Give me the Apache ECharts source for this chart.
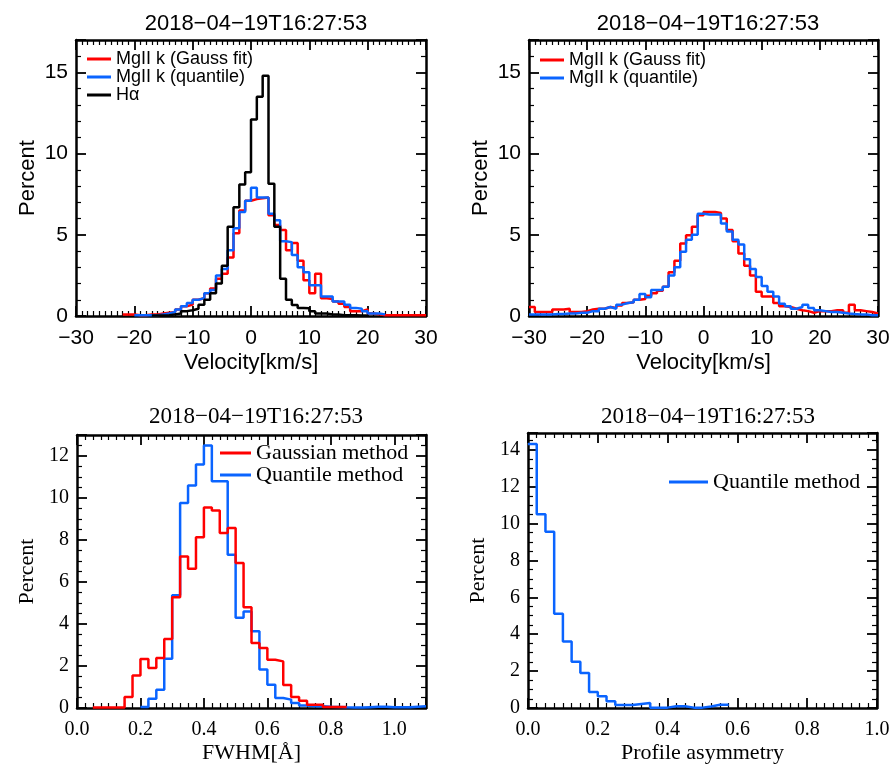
<!DOCTYPE html>
<html><head><meta charset="utf-8">
<script src="https://cdn.jsdelivr.net/npm/echarts@6/dist/echarts.min.js"></script>
<style>html,body{margin:0;padding:0;background:#fff}#c{width:893px;height:767px}</style>
</head><body><div id="c"></div>
<script>
const timeTitle = '2018−04−19T16:27:53';

// ---- Panel 1: velocity histograms (bin width 1 km/s, left edges) ----
const p1GaussBins = [-22,-21,-20,-19,-18,-17,-16,-15,-14,-13,-12,-11,-10,-9,-8,-7,-6,-5,-4,-3,-2,-1,0,1,2,3,4,5,6,7,8,9,10,11,12,13,14,15,16,17,18,19,20,21,22,23,24,25,26,27,28,29];
const p1GaussPct = [0.1,0.1,0.05,0.05,0.1,0.1,0.15,0.2,0.25,0.4,0.6,0.7,1.0,1.1,1.4,1.7,2.3,2.6,3.6,5.1,6.5,7.1,7.2,7.25,7.3,6.2,5.6,5.3,4.05,4.5,3.4,2.2,1.4,2.6,1.1,1.05,0.9,0.75,0.55,0.3,0.3,0.4,0.15,0.1,0.05,0.05,0.05,0.05,0.05,0.05,0.05,0.05];
const p1QuantBins = [-20,-19,-18,-17,-16,-15,-14,-13,-12,-11,-10,-9,-8,-7,-6,-5,-4,-3,-2,-1,0,1,2,3,4,5,6,7,8,9,10,11,12,13,14,15,16,17,18,19,20,21,22];
const p1QuantPct = [0.05,0.05,0.05,0.05,0.1,0.15,0.25,0.4,0.6,0.8,1.0,1.1,1.4,1.6,2.5,2.9,4.05,5.4,6.4,7.1,7.9,7.3,7.3,6.3,5.9,4.6,4.55,3.75,3.0,2.7,1.9,1.9,1.2,1.2,0.9,0.9,0.7,0.5,0.45,0.3,0.15,0.15,0.1];
const p1HaBins = [-17,-16,-15,-14,-13,-12,-11,-10,-9,-8,-7,-6,-5,-4,-3,-2,-1,0,1,2,3,4,5,6,7,8,9,10,11,12,13,14,15,16,17,18,19];
const p1HaPct = [0.03,0.03,0.05,0.1,0.15,0.3,0.35,0.45,0.7,1.0,1.4,2.0,3.1,5.5,6.7,8.1,8.85,12.1,13.5,14.8,8.15,5.5,2.3,1.0,0.68,0.5,0.47,0.3,0.16,0.16,0.1,0.1,0.05,0.05,0.05,0.03,0.03];

// ---- Panel 2 ----
const p2Bins = [-30,-29,-28,-27,-26,-25,-24,-23,-22,-21,-20,-19,-18,-17,-16,-15,-14,-13,-12,-11,-10,-9,-8,-7,-6,-5,-4,-3,-2,-1,0,1,2,3,4,5,6,7,8,9,10,11,12,13,14,15,16,17,18,19,20,21,22,23,24,25,26,27,28,29];
const p2GaussPct = [0.55,0.25,0.25,0.25,0.4,0.4,0.45,0.25,0.25,0.3,0.4,0.45,0.45,0.55,0.5,0.65,0.8,0.85,1.0,1.05,1.25,1.4,1.55,1.8,2.7,3.4,4.47,4.98,5.5,6.2,6.4,6.4,6.35,6.0,5.3,4.6,3.85,3.1,2.5,1.5,1.2,1.2,0.8,0.6,0.55,0.45,0.35,0.3,0.2,0.3,0.3,0.3,0.35,0.35,0.2,0.7,0.35,0.3,0.25,0.15];
const p2QuantPct = [0.1,0.1,0.1,0.1,0.12,0.12,0.15,0.15,0.2,0.2,0.3,0.3,0.45,0.55,0.45,0.7,0.8,0.85,1.0,1.35,1.15,1.6,1.6,1.8,2.5,3.0,3.95,4.7,5.0,6.3,6.25,6.25,6.25,5.7,5.2,4.7,4.4,3.5,2.9,2.4,1.85,1.5,1.2,0.75,0.6,0.45,0.55,0.7,0.5,0.35,0.3,0.25,0.25,0.2,0.15,0.12,0.1,0.1,0.05,0.05];

// ---- Panel 3: FWHM (bin width 0.025 Å) ----
const p3GaussBins = [0.05,0.075,0.1,0.125,0.15,0.175,0.2,0.225,0.25,0.275,0.3,0.325,0.35,0.375,0.4,0.425,0.45,0.475,0.5,0.525,0.55,0.575,0.6,0.625,0.65,0.675,0.7,0.725,0.75,0.775,0.8,0.825];
const p3GaussPct = [0.02,0.02,0.02,0.02,0.52,1.55,2.33,1.9,2.38,3.29,5.27,7.22,6.63,8.13,9.55,9.4,8.33,8.57,6.9,4.8,3.1,2.86,2.3,2.22,1.1,0.52,0.35,0.16,0.16,0.05,0.05,0.05];
const p3QuantBins = [0.2,0.225,0.25,0.275,0.3,0.325,0.35,0.375,0.4,0.425,0.45,0.475,0.5,0.525,0.55,0.575,0.6,0.625,0.65,0.675,0.7,0.725,0.75,0.775,0.8,0.825,0.85,0.875,0.9,0.925,0.95,0.975,1.0,1.025,1.05,1.075];
const p3QuantPct = [0.05,0.44,0.87,2.35,5.37,9.76,10.6,11.6,12.5,10.8,10.8,7.3,4.3,4.6,3.65,1.83,1.11,0.48,0.4,0.24,0.12,0.08,0.08,0.06,0.05,0.03,0.02,0.02,0.04,0.06,0.06,0.03,0.03,0.03,0.06,0.08];

// ---- Panel 4: profile asymmetry ----
const p4Bins = [0,0.025,0.05,0.075,0.1,0.125,0.15,0.175,0.2,0.225,0.25,0.275,0.3,0.325,0.35,0.375,0.4,0.425,0.45,0.475,0.5,0.525,0.55];
const p4QuantPct = [14.3,10.5,9.55,5.1,3.6,2.5,1.9,0.87,0.63,0.36,0.16,0.16,0.22,0.27,0.02,0.02,0.1,0.1,0.02,0.02,0.08,0.18,0.18];

const RED = '#ff0000', BLUE = '#0a64ff', BLACK = '#000000';
const SANS = 'Liberation Sans', SERIF = 'Liberation Serif';

function hist(bins, vals, w) {
  const d = bins.map((b, i) => [b, vals[i]]);
  d.push([+(bins[bins.length - 1] + w).toFixed(4), vals[vals.length - 1]]);
  return d;
}
const minus = v => String(v).replace('-', '−');
const fix1 = v => v.toFixed(1);

const grids = [
  {left: 76, top: 40, width: 350, height: 276},
  {left: 529, top: 40, width: 349, height: 276},
  {left: 77, top: 435, width: 349, height: 273},
  {left: 528, top: 433, width: 349, height: 275}
];

const AX_LINE = {show: true, onZero: false, lineStyle: {color: '#000', width: 2.5}};
const AX_TICK = {show: true, inside: true, length: 10, lineStyle: {color: '#000', width: 1.8}};

function xAxes(gi, min, max, interval, minorSplit, font, fs, nfs, fmt, name, nameGap, showMax) {
  const common = {
    gridIndex: gi, type: 'value', min, max, interval,
    axisLine: AX_LINE, axisTick: AX_TICK,
    minorTick: {show: true, splitNumber: minorSplit, length: 5, lineStyle: {color: '#000', width: 1.2}},
    splitLine: {show: false}
  };
  return [
    Object.assign({}, common, {
      position: 'bottom',
      axisLabel: {color: '#000', fontSize: fs, fontFamily: font, margin: 12, formatter: fmt, showMaxLabel: showMax, hideOverlap: false},
      name, nameLocation: 'middle', nameGap,
      nameTextStyle: {color: '#000', fontSize: nfs, fontFamily: font}
    }),
    Object.assign({}, common, {position: 'top', axisLabel: {show: false}})
  ];
}
function yAxes(gi, min, max, interval, minorSplit, font, fs, nfs, name, nameGap) {
  const common = {
    gridIndex: gi, type: 'value', min, max, interval,
    axisLine: AX_LINE, axisTick: AX_TICK,
    minorTick: {show: true, splitNumber: minorSplit, length: 5, lineStyle: {color: '#000', width: 1.2}},
    splitLine: {show: false}
  };
  return [
    Object.assign({}, common, {
      position: 'left',
      axisLabel: {color: '#000', fontSize: fs, fontFamily: font, margin: 8, showMaxLabel: false},
      name, nameLocation: 'middle', nameGap, nameRotate: 90,
      nameTextStyle: {color: '#000', fontSize: nfs, fontFamily: font}
    }),
    Object.assign({}, common, {position: 'right', axisLabel: {show: false}})
  ];
}

const xAxis = [].concat(
  xAxes(0, -30, 30, 10, 10, SANS, 21, 22, minus, 'Velocity[km/s]', 36, true),
  xAxes(1, -30, 30, 10, 10, SANS, 21, 22, minus, 'Velocity[km/s]', 36, true),
  xAxes(2, 0, 1.1, 0.2, 8, SERIF, 20, 22, fix1, 'FWHM[Å]', 34, false),
  xAxes(3, 0, 1.0, 0.2, 8, SERIF, 20, 22, fix1, 'Profile asymmetry', 34, true)
);
const yAxis = [].concat(
  yAxes(0, 0, 17, 5, 5, SANS, 21, 22, 'Percent', 37),
  yAxes(1, 0, 17, 5, 5, SANS, 21, 22, 'Percent', 37),
  yAxes(2, 0, 13, 2, 4, SERIF, 20, 22, 'Percent', 39),
  yAxes(3, 0, 14.9, 2, 4, SERIF, 20, 22, 'Percent', 39)
);

function line(name, gi, data, color) {
  return {
    name, type: 'line', xAxisIndex: gi * 2, yAxisIndex: gi * 2, data, step: 'end',
    symbol: 'none', lineStyle: {color, width: 2.5}, itemStyle: {color}, animation: false
  };
}

const series = [
  line('MgII k (Gauss fit)', 0, hist(p1GaussBins, p1GaussPct, 1), RED),
  line('MgII k (quantile)', 0, hist(p1QuantBins, p1QuantPct, 1), BLUE),
  line('Hα', 0, hist(p1HaBins, p1HaPct, 1), BLACK),
  line('MgII k (Gauss fit)', 1, hist(p2Bins, p2GaussPct, 1), RED),
  line('MgII k (quantile)', 1, hist(p2Bins, p2QuantPct, 1), BLUE),
  line('Quantile method', 2, hist(p3QuantBins, p3QuantPct, 0.025), BLUE),
  line('Gaussian method', 2, hist(p3GaussBins, p3GaussPct, 0.025), RED),
  line('Quantile method', 3, hist(p4Bins, p4QuantPct, 0.025), BLUE)
];

const legendBase = {orient: 'vertical', padding: 0, itemGap: 0, selectedMode: false, icon: 'rect', itemHeight: 3};
const titleStyle = (f, s) => ({fontFamily: f, fontSize: s, fontWeight: 'normal', color: '#000'});
const option = {
  backgroundColor: '#fff',
  animation: false,
  title: [
    {text: timeTitle, left: 251, top: 8, textAlign: 'center', textStyle: titleStyle(SANS, 22)},
    {text: timeTitle, left: 703, top: 8, textAlign: 'center', textStyle: titleStyle(SANS, 22)},
    {text: timeTitle, left: 251, top: 400, textAlign: 'center', textStyle: titleStyle(SERIF, 23)},
    {text: timeTitle, left: 703, top: 400, textAlign: 'center', textStyle: titleStyle(SERIF, 23)}
  ],
  grid: grids,
  xAxis, yAxis,
  legend: [
    Object.assign({}, legendBase, {data: ['MgII k (Gauss fit)', 'MgII k (quantile)', 'Hα'], left: 87, top: 50, itemWidth: 24,
      textStyle: {fontFamily: SANS, fontSize: 18, color: '#000', lineHeight: 15.5}}),
    Object.assign({}, legendBase, {data: ['MgII k (Gauss fit)', 'MgII k (quantile)'], left: 540, top: 51, itemWidth: 24,
      textStyle: {fontFamily: SANS, fontSize: 18, color: '#000', lineHeight: 15.5}}),
    Object.assign({}, legendBase, {data: ['Gaussian method', 'Quantile method'], left: 220, top: 442, itemWidth: 31,
      textStyle: {fontFamily: SERIF, fontSize: 22, color: '#000', lineHeight: 21}}),
    Object.assign({}, legendBase, {data: ['Quantile method'], left: 669, top: 471, itemWidth: 39,
      textStyle: {fontFamily: SERIF, fontSize: 22, color: '#000', lineHeight: 21}})
  ],
  series
};
const chart = echarts.init(document.getElementById('c'), null, {renderer: 'canvas'});
chart.setOption(option);
</script>
</body></html>
